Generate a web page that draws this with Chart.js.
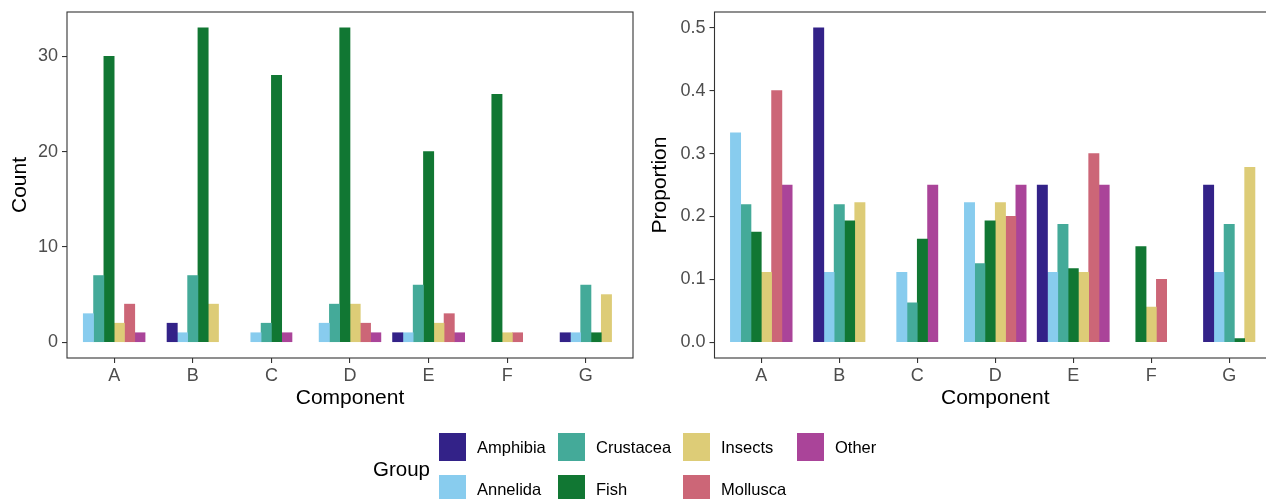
<!DOCTYPE html>
<html>
<head>
<meta charset="utf-8">
<script src="https://cdn.jsdelivr.net/npm/chart.js@4"></script>
<style>
  html, body { margin: 0; padding: 0; background: #fff; overflow: hidden; }
  body { width: 1266px; height: 499px; position: relative; font-family: "Liberation Sans", Arial, sans-serif; }
  #cLeft { position: absolute; left: 0; top: 0; }
  #cRight { position: absolute; left: 640px; top: 0; }
  #legend { position: absolute; left: 0; top: 0; width: 1266px; height: 499px; pointer-events: none; }
  #legend .ttl { position: absolute; font-size: 20.5px; color: #000; line-height: 24px; }
  #legend .key { position: absolute; width: 27px; height: 28px; }
  #legend .lab { position: absolute; font-size: 16.5px; color: #000; line-height: 28px; white-space: nowrap; }
</style>
</head>
<body>
<canvas id="cLeft" width="640" height="420"></canvas>
<canvas id="cRight" width="640" height="420"></canvas>
<div id="legend"></div>
<script>
// categories and groups
const components = ['A', 'B', 'C', 'D', 'E', 'F', 'G'];
const groups = ['Amphibia', 'Annelida', 'Crustacea', 'Fish', 'Insects', 'Mollusca', 'Other'];
const groupColors = ['#332288', '#88CCEE', '#44AA99', '#117733', '#DDCC77', '#CC6677', '#AA4499'];

// counts (null = group absent in that component)
const countAmphibia  = [null, 2, null, null, 1, null, 1];
const countAnnelida  = [3, 1, 1, 2, 1, null, 1];
const countCrustacea = [7, 7, 2, 4, 6, null, 6];
const countFish      = [30, 33, 28, 33, 20, 26, 1];
const countInsects   = [2, 4, null, 4, 2, 1, 5];
const countMollusca  = [4, null, null, 2, 3, 1, null];
const countOther     = [1, null, 1, 1, 1, null, null];

// proportions
const propAmphibia  = [null, 0.5, null, null, 0.25, null, 0.25];
const propAnnelida  = [0.333, 0.111, 0.111, 0.222, 0.111, null, 0.111];
const propCrustacea = [0.219, 0.219, 0.0625, 0.125, 0.1875, null, 0.1875];
const propFish      = [0.175, 0.193, 0.164, 0.193, 0.117, 0.152, 0.006];
const propInsects   = [0.111, 0.222, null, 0.222, 0.111, 0.056, 0.278];
const propMollusca  = [0.4, null, null, 0.2, 0.3, 0.1, null];
const propOther     = [0.25, null, 0.25, 0.25, 0.25, null, null];

const countTicks = [0, 10, 20, 30];
const propTicks = [0, 0.1, 0.2, 0.3, 0.4, 0.5];

const FONT = '"Liberation Sans", Arial, sans-serif';
const TICK_SIZE = 18;
const TITLE_SIZE = 21;

// box round the panel
const panelBox = {
  id: 'panelBox',
  afterDraw(chart) {
    const a = chart.chartArea;
    const ctx = chart.ctx;
    ctx.save();
    ctx.strokeStyle = '#333333';
    ctx.lineWidth = 1.1;
    ctx.strokeRect(a.left, a.top, a.right - a.left, a.bottom - a.top);
    ctx.restore();
  }
};

function makePanel(id, series, yMin, yMax, yTicks, yTitle, fmt, axisW, padRight) {
  const datasets = groups.map((g, k) => ({
    label: g,
    data: components.map((c, i) => ({ x: i + 1, y: series[k][i] })),
    backgroundColor: groupColors[k],
    borderWidth: 0,
    barThickness: 10.3,
    skipNull: true
  }));

  return new Chart(document.getElementById(id), {
    type: 'bar',
    data: { datasets: datasets },
    options: {
      responsive: false,
      animation: false,
      layout: { padding: { top: 12, right: padRight, left: 0, bottom: 0 } },
      plugins: { legend: { display: false }, tooltip: { enabled: false } },
      scales: {
        x: {
          type: 'linear',
          min: 0.4,
          max: 7.6,
          offset: false,
          grid: { offset: false, drawOnChartArea: false, drawTicks: true, tickLength: 5, color: '#333333', lineWidth: 1.1 },
          border: { display: false },
          afterBuildTicks: s => { s.ticks = components.map((c, i) => ({ value: i + 1 })); },
          afterFit: s => { s.height = 62; },
          ticks: {
            autoSkip: false, maxRotation: 0, padding: 2,
            color: '#4D4D4D', font: { family: FONT, size: TICK_SIZE },
            callback: v => components[Math.round(v) - 1]
          },
          title: {
            display: true, text: 'Component', color: '#000',
            font: { family: FONT, size: TITLE_SIZE }, padding: { top: 0, bottom: 9 }
          }
        },
        y: {
          min: yMin,
          max: yMax,
          grid: { drawOnChartArea: false, drawTicks: true, tickLength: 5, color: '#333333', lineWidth: 1.1 },
          border: { display: false },
          afterBuildTicks: s => { s.ticks = yTicks.map(v => ({ value: v })); },
          afterFit: s => { s.width = axisW; s.paddingTop = 0; s.paddingBottom = 0; },
          ticks: {
            padding: 4, color: '#4D4D4D', font: { family: FONT, size: TICK_SIZE },
            callback: v => fmt(v)
          },
          title: {
            display: true, text: yTitle, color: '#000',
            font: { family: FONT, size: TITLE_SIZE }, padding: { top: 8, bottom: 0 }
          }
        }
      }
    },
    plugins: [panelBox]
  });
}

makePanel('cLeft',
  [countAmphibia, countAnnelida, countCrustacea, countFish, countInsects, countMollusca, countOther],
  -1.65, 34.65, countTicks, 'Count', v => String(v), 67, 7);

makePanel('cRight',
  [propAmphibia, propAnnelida, propCrustacea, propFish, propInsects, propMollusca, propOther],
  -0.025, 0.525, propTicks, 'Proportion', v => v.toFixed(1), 74.5, 4);

// legend: two rows, filled column by column
const legend = document.getElementById('legend');
const keyX = [439, 558, 683, 797];
const rowY = [433, 475];
const t = document.createElement('div');
t.className = 'ttl';
t.textContent = 'Group';
t.style.left = '373px';
t.style.top = '457px';
legend.appendChild(t);
groups.forEach((g, k) => {
  const col = Math.floor(k / 2), row = k % 2;
  const key = document.createElement('div');
  key.className = 'key';
  key.style.left = keyX[col] + 'px';
  key.style.top = rowY[row] + 'px';
  key.style.background = groupColors[k];
  legend.appendChild(key);
  const lab = document.createElement('div');
  lab.className = 'lab';
  lab.textContent = g;
  lab.style.left = (keyX[col] + 38) + 'px';
  lab.style.top = rowY[row] + 'px';
  legend.appendChild(lab);
});
</script>
</body>
</html>
